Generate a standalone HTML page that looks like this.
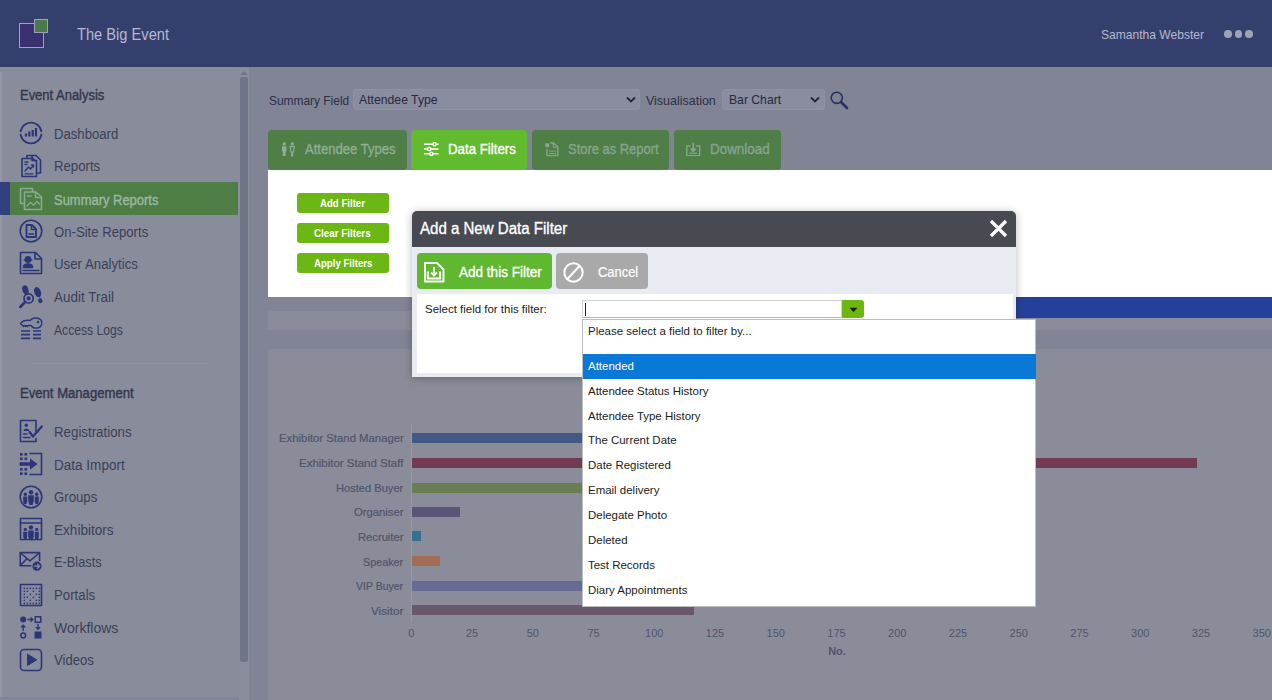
<!DOCTYPE html>
<html><head><meta charset="utf-8"><title>Summary Reports</title>
<style>
*{box-sizing:border-box;margin:0;padding:0}
html,body{width:1272px;height:700px;overflow:hidden}
body{position:relative;background:#818495;font-family:"Liberation Sans",sans-serif;color:#3E4258}
.a{position:absolute}
.t{position:absolute;white-space:nowrap;line-height:1;transform-origin:0 50%}
.ic{position:absolute;left:19px;width:24px;height:24px}
.ic svg{width:24px;height:24px;display:block;overflow:visible}
</style></head><body>
<div class="a" style="left:0px;top:0px;width:1272px;height:67px;background:#343F6E"></div>
<div class="a" style="left:0px;top:67px;width:239px;height:633px;background:#898D9B"></div>
<div class="a" style="left:0px;top:697px;width:239px;height:3px;background:#82859A"></div>
<div class="a" style="left:239px;top:67px;width:9.5px;height:633px;background:#8A8E9C"></div>
<div class="a" style="left:239.5px;top:77px;width:8.6px;height:585px;background:#707487;border-radius:2px"></div>
<svg class="a" style="left:240px;top:71px" width="8" height="4" viewBox="0 0 8 4"><path d="M0 4L4 0L8 4Z" fill="#70748A"/></svg>
<div class="a" style="left:19px;top:23px;width:25px;height:25px;background:#3A3270;border:1px solid #9DA2C0"></div>
<div class="a" style="left:34px;top:19px;width:14px;height:14px;background:#4B7A4A;border:1px solid #9DA2C0"></div>
<div class="t" style="left:77.0px;top:35.0px;font-size:16px;color:#B4B9D0;transform:translateY(-50%) scaleX(0.9154)">The Big Event</div>
<div class="t" style="left:1101.2px;top:34.2px;font-size:13px;color:#B4B9D0;transform:translateY(-50%) scaleX(0.9275)">Samantha Webster</div>
<div class="a" style="left:1224.2px;top:30.2px;width:7.6px;height:7.6px;background:#9EA2B7;border-radius:50%"></div>
<div class="a" style="left:1234.7px;top:30.2px;width:7.6px;height:7.6px;background:#9EA2B7;border-radius:50%"></div>
<div class="a" style="left:1245.2px;top:30.2px;width:7.6px;height:7.6px;background:#9EA2B7;border-radius:50%"></div>
<div class="a" style="left:0px;top:72px;width:1.5px;height:625px;background:#9396A7"></div>
<div class="a" style="left:0px;top:182px;width:10px;height:32.6px;background:#324080"></div>
<div class="a" style="left:10px;top:182px;width:228px;height:33px;background:#4E7D45"></div>
<div class="a" style="left:31px;top:363px;width:177px;height:1px;background:#8F93A1"></div>
<div class="t" style="left:19.7px;top:95.3px;font-size:14px;-webkit-text-stroke:0.4px #33364D;color:#33364D;transform:translateY(-50%) scaleX(0.9257)">Event Analysis</div>
<div class="t" style="left:19.8px;top:393.3px;font-size:14px;-webkit-text-stroke:0.4px #33364D;color:#33364D;transform:translateY(-50%) scaleX(0.9357)">Event Management</div>
<div class="ic" style="top:121.0px"><svg viewBox="0 0 24 24" fill="none" stroke="#2D3579" stroke-width="1.6" stroke-linecap="round" stroke-linejoin="round"><path d="M1.6 10.2A10.6 10.6 0 0 1 22.4 10.2M22.4 13.8A10.6 10.6 0 0 1 1.6 13.8" stroke-width="1.9"/><path d="M7 12.5V15.5M10.3 10.5V15.5M13.7 9V15.5M17 7V15.5" stroke-width="2.2" stroke-linecap="butt"/></svg></div><div class="t" style="left:54.0px;top:133.5px;font-size:14px;color:#3B3F57;transform:translateY(-50%) scaleX(0.9372)">Dashboard</div>
<div class="ic" style="top:153.8px"><svg viewBox="0 0 24 24" fill="none" stroke="#2D3579" stroke-width="1.6" stroke-linecap="round" stroke-linejoin="round"><path d="M8 4V1.5H17L21.5 6V19H17.5"/><path d="M13 1.8V6.5H17.5" /><path d="M3 4.5H14L17.5 8V22.5H3Z"/><path d="M6 17L9.5 13L11.5 15L14.5 11M12.5 11H14.5V13" stroke-width="1.3"/><path d="M6 8H9M6 10.5H8M6 19.8H14" stroke-width="1.3"/></svg></div><div class="t" style="left:54.0px;top:166.3px;font-size:14px;color:#3B3F57;transform:translateY(-50%) scaleX(0.9423)">Reports</div>
<div class="ic" style="top:186.5px"><svg viewBox="0 0 24 24" fill="none" stroke="#88AC8E" stroke-width="1.6" stroke-linecap="round" stroke-linejoin="round"><path d="M5 16.5H1.5V1.5H13.5V4.5"/><path d="M5.5 5H17L22.5 10V22.5H5.5Z"/><path d="M16.5 5.3V10.5H22"/><path d="M8 19L11.5 15.5L14.5 18L18 14.5L20.5 17" stroke-width="1.3"/><path d="M8.5 9H12" stroke-width="1.3"/></svg></div><div class="t" style="left:54.0px;top:199.6px;font-size:14px;-webkit-text-stroke:0.4px #98B8A0;color:#98B8A0;transform:translateY(-50%) scaleX(0.9254)">Summary Reports</div>
<div class="ic" style="top:219.2px"><svg viewBox="0 0 24 24" fill="none" stroke="#2D3579" stroke-width="1.6" stroke-linecap="round" stroke-linejoin="round"><circle cx="12" cy="12" r="10.8"/><path d="M7.5 6H13L17 10V18H7.5Z" stroke-width="1.9"/><path d="M12.5 6.5V10.5H16.5" stroke-width="1.6"/><path d="M10 15H14.5" stroke-width="1.6"/></svg></div><div class="t" style="left:54.0px;top:231.7px;font-size:14px;color:#3B3F57;transform:translateY(-50%) scaleX(0.9385)">On-Site Reports</div>
<div class="ic" style="top:251.8px"><svg viewBox="0 0 24 24" fill="none" stroke="#2D3579" stroke-width="1.6" stroke-linecap="round" stroke-linejoin="round"><g transform="translate(0 -1)"><path d="M1.5 1.5H16.5L22.5 7.5V22.5H1.5Z"/><path d="M16 2V8H22"/><circle cx="9" cy="8.5" r="2.6" fill="#2D3579"/><path d="M5.2 9H12.8" stroke-width="1.4"/><path d="M4.5 16.5C4.5 12 13.5 12 13.5 16.5Z" fill="#2D3579"/><path d="M4 19.5H20" stroke-width="1.5"/></g></svg></div><div class="t" style="left:54.0px;top:264.3px;font-size:14px;color:#3B3F57;transform:translateY(-50%) scaleX(0.9470)">User Analytics</div>
<div class="ic" style="top:284.5px"><svg viewBox="0 0 24 24" fill="none" stroke="#2D3579" stroke-width="1.6" stroke-linecap="round" stroke-linejoin="round"><ellipse cx="6.4" cy="4.9" rx="3" ry="4.6" transform="rotate(-18 6.4 4.9)" fill="#2D3579" stroke="none"/><ellipse cx="18.6" cy="7.2" rx="3.3" ry="5.3" transform="rotate(-20 18.6 7.2)" fill="#2D3579" stroke="none"/><ellipse cx="21.3" cy="15.6" rx="2.1" ry="2.6" transform="rotate(-20 21.3 15.6)" fill="#2D3579" stroke="none"/><circle cx="9.6" cy="13.4" r="4.6" stroke-width="1.7" fill="#898D9B"/><circle cx="9.6" cy="13.4" r="2.1" fill="#2D3579" stroke="none"/><path d="M6.2 16.9L1.3 22" stroke-width="2.6"/></svg></div><div class="t" style="left:54.0px;top:297.0px;font-size:14px;color:#3B3F57;transform:translateY(-50%) scaleX(0.9622)">Audit Trail</div>
<div class="ic" style="top:317.0px"><svg viewBox="0 0 24 24" fill="none" stroke="#2D3579" stroke-width="1.6" stroke-linecap="round" stroke-linejoin="round"><path d="M1.5 6.5C4 3.5 8 3 11 3.5C13 0.5 19 0 22 3C24 6 22.5 10.5 18.5 11C15 11.5 13 10 12 8.5H9.5L8.5 9.5L7.5 8.5L6.5 9.5L5.5 8.5L4.5 9.5L1.5 6.5Z" stroke-width="1.4"/><circle cx="19" cy="5" r="1.3" fill="#2D3579" stroke="none"/><path d="M2 14H11M14 14H22M2 17.7H11M14 17.7H22M2 21.4H11M14 21.4H22" stroke-width="1.7" stroke-linecap="butt"/></svg></div><div class="t" style="left:54.0px;top:329.5px;font-size:14px;color:#3B3F57;transform:translateY(-50%) scaleX(0.8668)">Access Logs</div>
<div class="ic" style="top:418.6px"><svg viewBox="0 0 24 24" fill="none" stroke="#2D3579" stroke-width="1.6" stroke-linecap="round" stroke-linejoin="round"><path d="M17 12.5V1.5H1.5V22.5H17V19.5"/><circle cx="7.3" cy="6.3" r="1.7" fill="#2D3579" stroke="none"/><path d="M4.5 12C4.5 8.5 10.2 8.5 10.2 12Z" fill="#2D3579" stroke="none"/><path d="M4.5 15H8M4.5 18.5H11" stroke-width="1.4"/><path d="M10.5 13L14 17.5L22.8 7.5" stroke-width="2.3"/></svg></div><div class="t" style="left:54.0px;top:432.0px;font-size:14px;color:#3B3F57;transform:translateY(-50%) scaleX(0.9498)">Registrations</div>
<div class="ic" style="top:451.5px"><svg viewBox="0 0 24 24" fill="none" stroke="#2D3579" stroke-width="1.6" stroke-linecap="round" stroke-linejoin="round"><path d="M11 1.5H22.5V22.5H11"/><g fill="#2D3579" stroke="none"><rect x="1" y="1" width="2.6" height="2.6"/><rect x="5.5" y="1" width="2.6" height="2.6"/><rect x="1" y="5.5" width="2.6" height="2.6"/><rect x="5.5" y="5.5" width="2.6" height="2.6"/><rect x="1" y="16" width="2.6" height="2.6"/><rect x="5.5" y="16" width="2.6" height="2.6"/><rect x="1" y="20.4" width="2.6" height="2.6"/><rect x="5.5" y="20.4" width="2.6" height="2.6"/><path d="M0.5 10.2H11V6.5L18.5 12L11 17.5V13.8H0.5Z"/></g></svg></div><div class="t" style="left:54.0px;top:464.7px;font-size:14px;color:#3B3F57;transform:translateY(-50%) scaleX(0.9666)">Data Import</div>
<div class="ic" style="top:484.8px"><svg viewBox="0 0 24 24" fill="none" stroke="#2D3579" stroke-width="1.6" stroke-linecap="round" stroke-linejoin="round"><circle cx="12" cy="12" r="10.8"/><g fill="#2D3579" stroke="none"><circle cx="12" cy="7.2" r="2.2"/><path d="M9.2 10.3H14.8V16L13.6 20H10.4L9.2 16Z"/><circle cx="6.3" cy="9.2" r="1.7"/><path d="M4.2 11.6H8.2V16.5L7.5 19H5L4.2 16.5Z"/><circle cx="17.7" cy="9.2" r="1.7"/><path d="M15.8 11.6H19.8V16.5L19 19H16.5L15.8 16.5Z"/></g></svg></div><div class="t" style="left:54.0px;top:497.3px;font-size:14px;color:#3B3F57;transform:translateY(-50%) scaleX(0.9429)">Groups</div>
<div class="ic" style="top:517.4px"><svg viewBox="0 0 24 24" fill="none" stroke="#2D3579" stroke-width="1.6" stroke-linecap="round" stroke-linejoin="round"><rect x="1.5" y="1.5" width="21" height="21"/><path d="M1.5 6H22.5"/><g transform="translate(0 3.2)"><g fill="#2D3579" stroke="none"><circle cx="12" cy="7.2" r="2.2"/><path d="M9.2 10.3H14.8V16L13.6 20H10.4L9.2 16Z"/><circle cx="6.3" cy="9.2" r="1.7"/><path d="M4.2 11.6H8.2V16.5L7.5 19H5L4.2 16.5Z"/><circle cx="17.7" cy="9.2" r="1.7"/><path d="M15.8 11.6H19.8V16.5L19 19H16.5L15.8 16.5Z"/></g></g></svg></div><div class="t" style="left:54.0px;top:529.9px;font-size:14px;color:#3B3F57;transform:translateY(-50%) scaleX(0.9696)">Exhibitors</div>
<div class="ic" style="top:549.9px"><svg viewBox="0 0 24 24" fill="none" stroke="#2D3579" stroke-width="1.6" stroke-linecap="round" stroke-linejoin="round"><path d="M12.5 15.8H1.2V2.6H20.6V10.5"/><path d="M1.5 3L10.9 10.8L20.3 3M1.5 15.4L7.8 8.8"/><circle cx="18" cy="16.2" r="5.6" fill="#898D9B" stroke="none"/><circle cx="18" cy="16.2" r="4.6" fill="#2D3579" stroke="none"/><path d="M15.3 16.2H20.3M18.5 14.2L20.5 16.2L18.5 18.2" stroke="#898D9B" stroke-width="1.3"/></svg></div><div class="t" style="left:54.0px;top:562.4px;font-size:14px;color:#3B3F57;transform:translateY(-50%) scaleX(0.9132)">E-Blasts</div>
<div class="ic" style="top:582.5px"><svg viewBox="0 0 24 24" fill="none" stroke="#2D3579" stroke-width="1.6" stroke-linecap="round" stroke-linejoin="round"><rect x="1.5" y="1.5" width="21" height="21"/><g fill="#2D3579" stroke="none"><rect x="4.6" y="4.6" width="1.5" height="1.5"/><rect x="4.6" y="7.6" width="1.5" height="1.5"/><rect x="4.6" y="10.6" width="1.5" height="1.5"/><rect x="4.6" y="13.6" width="1.5" height="1.5"/><rect x="4.6" y="16.6" width="1.5" height="1.5"/><rect x="4.6" y="19.6" width="1.5" height="1.5"/><rect x="7.6" y="4.6" width="1.5" height="1.5"/><rect x="7.6" y="7.6" width="1.5" height="1.5"/><rect x="7.6" y="13.6" width="1.5" height="1.5"/><rect x="7.6" y="19.6" width="1.5" height="1.5"/><rect x="10.6" y="4.6" width="1.5" height="1.5"/><rect x="10.6" y="10.6" width="1.5" height="1.5"/><rect x="10.6" y="16.6" width="1.5" height="1.5"/><rect x="10.6" y="19.6" width="1.5" height="1.5"/><rect x="13.6" y="4.6" width="1.5" height="1.5"/><rect x="13.6" y="7.6" width="1.5" height="1.5"/><rect x="13.6" y="13.6" width="1.5" height="1.5"/><rect x="13.6" y="19.6" width="1.5" height="1.5"/><rect x="16.6" y="4.6" width="1.5" height="1.5"/><rect x="16.6" y="10.6" width="1.5" height="1.5"/><rect x="16.6" y="16.6" width="1.5" height="1.5"/><rect x="16.6" y="19.6" width="1.5" height="1.5"/><rect x="19.6" y="4.6" width="1.5" height="1.5"/><rect x="19.6" y="7.6" width="1.5" height="1.5"/><rect x="19.6" y="10.6" width="1.5" height="1.5"/><rect x="19.6" y="13.6" width="1.5" height="1.5"/><rect x="19.6" y="16.6" width="1.5" height="1.5"/><rect x="19.6" y="19.6" width="1.5" height="1.5"/></g></svg></div><div class="t" style="left:54.0px;top:595.0px;font-size:14px;color:#3B3F57;transform:translateY(-50%) scaleX(0.9454)">Portals</div>
<div class="ic" style="top:615.0px"><svg viewBox="0 0 24 24" fill="none" stroke="#2D3579" stroke-width="1.6" stroke-linecap="round" stroke-linejoin="round"><g fill="#2D3579" stroke="none"><circle cx="4.2" cy="4.5" r="3"/><rect x="15.5" y="16.5" width="7" height="7"/></g><rect x="16.2" y="1.7" width="5.6" height="5.6" stroke-width="1.5"/><circle cx="4.2" cy="20.5" r="2.4" stroke-width="1.5"/><path d="M9 4.5H13.5M12 2.8L13.8 4.5L12 6.2M4.2 15.5V10.5M2.5 12L4.2 10.3L5.9 12M19 9.5V14M17.3 12.5L19 14.2L20.7 12.5" stroke-width="1.4"/></svg></div><div class="t" style="left:54.0px;top:627.5px;font-size:14px;color:#3B3F57;transform:translateY(-50%) scaleX(0.9998)">Workflows</div>
<div class="ic" style="top:647.5px"><svg viewBox="0 0 24 24" fill="none" stroke="#2D3579" stroke-width="1.6" stroke-linecap="round" stroke-linejoin="round"><rect x="1.5" y="1.5" width="21" height="21" rx="3.5"/><path d="M8.5 6.5V17.5L17.5 12Z" fill="#2D3579" stroke-width="1"/></svg></div><div class="t" style="left:54.0px;top:660.0px;font-size:14px;color:#3B3F57;transform:translateY(-50%) scaleX(0.9374)">Videos</div>
<div class="t" style="left:268.6px;top:101.0px;font-size:13.5px;color:#2C2F47;transform:translateY(-50%) scaleX(0.8834)">Summary Field</div>
<div class="a" style="left:353px;top:89px;width:287px;height:21px;background:#8A8D9F;border:1px solid #8F92A4;border-radius:3px"></div>
<div class="t" style="left:359.4px;top:100.4px;font-size:13.5px;color:#262940;transform:translateY(-50%) scaleX(0.9052)">Attendee Type</div>
<svg class="a" style="left:626px;top:96px" width="10" height="8" viewBox="0 0 10 8"><path d="M1 1.5L5 5.5L9 1.5" fill="none" stroke="#22253A" stroke-width="1.8"/></svg>
<div class="t" style="left:646.2px;top:101.0px;font-size:13.5px;color:#2C2F47;transform:translateY(-50%) scaleX(0.9237)">Visualisation</div>
<div class="a" style="left:722px;top:89px;width:103px;height:21px;background:#8A8D9F;border:1px solid #8F92A4;border-radius:3px"></div>
<div class="t" style="left:728.5px;top:100.4px;font-size:13.5px;color:#262940;transform:translateY(-50%) scaleX(0.9017)">Bar Chart</div>
<svg class="a" style="left:810px;top:96px" width="10" height="8" viewBox="0 0 10 8"><path d="M1 1.5L5 5.5L9 1.5" fill="none" stroke="#22253A" stroke-width="1.8"/></svg>
<svg class="a" style="left:829px;top:90px" width="20" height="20" viewBox="0 0 20 20"><circle cx="7.8" cy="7.8" r="5.6" fill="none" stroke="#283063" stroke-width="1.6"/><path d="M12 12L18 18" stroke="#283063" stroke-width="2.6" stroke-linecap="round"/></svg>
<div class="a" style="left:268.4px;top:129.7px;width:138.3px;height:40.3px;background:#4F7E47;border-radius:4px"></div>
<svg class="a" style="left:281px;top:142px" width="15" height="14.5" viewBox="0 0 15 14.5" fill="#8FAD98"><circle cx="3.2" cy="1.9" r="1.7"/><path d="M1 4.2H5.4V9.2H4.6V14H1.8V9.2H1Z"/><circle cx="11.2" cy="1.9" r="1.7"/><path d="M9 4.6H13.4L12.4 10H10Z M10.7 10.5H11.7V14H10.7Z" fill="none" stroke="#8FAD98" stroke-width="1.1"/></svg><div class="t" style="left:305.3px;top:149.2px;font-size:14.5px;-webkit-text-stroke:0.35px #8FAD98;color:#8FAD98;transform:translateY(-50%) scaleX(0.9014)">Attendee Types</div>
<div class="a" style="left:411px;top:129.7px;width:116.3px;height:40.3px;background:#62BA2E;border-radius:4px"></div>
<svg class="a" style="left:424px;top:142px" width="14.5" height="14" viewBox="0 0 14.5 14" fill="none" stroke="#fff" stroke-width="1.4"><path d="M0 2.2H8.8M12.4 2.2H14.5M0 7H3.4M7 7H14.5M0 11.8H5.6M9.2 11.8H14.5"/><circle cx="10.6" cy="2.2" r="1.6"/><circle cx="5.2" cy="7" r="1.6"/><circle cx="7.4" cy="11.8" r="1.6"/></svg><div class="t" style="left:448.2px;top:149.2px;font-size:14.5px;-webkit-text-stroke:0.35px #FFFFFF;color:#FFFFFF;transform:translateY(-50%) scaleX(0.9158)">Data Filters</div>
<div class="a" style="left:531.5px;top:129.7px;width:137px;height:40.3px;background:#4F7E47;border-radius:4px"></div>
<svg class="a" style="left:544px;top:142px" width="15" height="14.5" viewBox="0 0 15 14.5" fill="none" stroke="#86A590" stroke-width="1.4"><path d="M6 1H9.5L13.8 5V13.6H3V7"/><circle cx="3.2" cy="3.2" r="2.2" fill="#86A590" stroke="none"/><path d="M5 9H12M5 11.5H12" stroke-width="1.2"/><path d="M9.3 1.2V5.2H13.5" stroke-width="1.1"/></svg><div class="t" style="left:567.6px;top:149.2px;font-size:14.5px;-webkit-text-stroke:0.35px #86A590;color:#86A590;transform:translateY(-50%) scaleX(0.8921)">Store as Report</div>
<div class="a" style="left:674px;top:129.7px;width:106.5px;height:40.3px;background:#4F7E47;border-radius:4px"></div>
<svg class="a" style="left:686px;top:141.5px" width="14.5" height="14.5" viewBox="0 0 14.5 14.5" fill="none" stroke="#86A590" stroke-width="1.4"><path d="M4.4 4H0.8V13.6H13.7V4H10.1"/><path d="M7.25 0.5V9M4.8 6.6L7.25 9.2L9.7 6.6" stroke-width="1.7"/><path d="M3.4 11.2H11.1" stroke-width="1.2"/></svg><div class="t" style="left:710.3px;top:149.2px;font-size:14.5px;-webkit-text-stroke:0.35px #86A590;color:#86A590;transform:translateY(-50%) scaleX(0.9256)">Download</div>
<div class="a" style="left:268.4px;top:170px;width:1003.6px;height:126.6px;background:#fff"></div>
<div class="a" style="left:297.2px;top:193px;width:91.4px;height:20.4px;background:#6CB714;border-radius:3px"></div>
<div class="t" style="left:320.0px;top:203.3px;font-size:11px;font-weight:bold;color:#fff;transform:translateY(-50%) scaleX(0.8764)">Add Filter</div>
<div class="a" style="left:297.2px;top:223px;width:91.4px;height:20.4px;background:#6CB714;border-radius:3px"></div>
<div class="t" style="left:314.4px;top:233.3px;font-size:11px;font-weight:bold;color:#fff;transform:translateY(-50%) scaleX(0.8900)">Clear Filters</div>
<div class="a" style="left:297.2px;top:253px;width:91.4px;height:20.4px;background:#6CB714;border-radius:3px"></div>
<div class="t" style="left:313.6px;top:263.3px;font-size:11px;font-weight:bold;color:#fff;transform:translateY(-50%) scaleX(0.8765)">Apply Filters</div>
<div class="a" style="left:268.4px;top:310.7px;width:1003.6px;height:19.3px;background:#8A8D99;border-radius:2px 0 0 2px"></div>
<div class="a" style="left:1016px;top:296.7px;width:256px;height:21px;background:#24409A"></div>
<div class="a" style="left:268.4px;top:348.6px;width:1003.6px;height:351.4px;background:#8A8D99;border-radius:2px 0 0 0"></div>
<div class="a" style="left:411px;top:425px;width:1px;height:197px;background:#9598A6"></div>
<div class="a" style="left:412px;top:432.9px;width:364.5px;height:10px;background:#425A82"></div>
<div class="t" style="left:278.6px;top:438.4px;font-size:11px;-webkit-text-stroke:0.2px #50546B;color:#50546B;transform:translateY(-50%) scaleX(1.0316)">Exhibitor Stand Manager</div>
<div class="a" style="left:412px;top:457.7px;width:784.9px;height:10px;background:#723B51"></div>
<div class="t" style="left:299.1px;top:463.2px;font-size:11px;-webkit-text-stroke:0.2px #50546B;color:#50546B;transform:translateY(-50%) scaleX(1.0430)">Exhibitor Stand Staff</div>
<div class="a" style="left:412px;top:482.8px;width:486.0px;height:10px;background:#6A7E55"></div>
<div class="t" style="left:336.2px;top:488.3px;font-size:11px;-webkit-text-stroke:0.2px #50546B;color:#50546B;transform:translateY(-50%) scaleX(1.0097)">Hosted Buyer</div>
<div class="a" style="left:412px;top:506.5px;width:47.6px;height:10px;background:#5A5579"></div>
<div class="t" style="left:354.0px;top:512.0px;font-size:11px;-webkit-text-stroke:0.2px #50546B;color:#50546B;transform:translateY(-50%) scaleX(1.0249)">Organiser</div>
<div class="a" style="left:412px;top:531.4px;width:9.0px;height:10px;background:#34708E"></div>
<div class="t" style="left:358.1px;top:536.9px;font-size:11px;-webkit-text-stroke:0.2px #50546B;color:#50546B;transform:translateY(-50%) scaleX(1.0174)">Recruiter</div>
<div class="a" style="left:412px;top:556.4px;width:28.4px;height:10px;background:#A26C56"></div>
<div class="t" style="left:363.3px;top:561.9px;font-size:11px;-webkit-text-stroke:0.2px #50546B;color:#50546B;transform:translateY(-50%) scaleX(0.9809)">Speaker</div>
<div class="a" style="left:412px;top:580.5px;width:437.4px;height:10px;background:#646C96"></div>
<div class="t" style="left:356.4px;top:586.0px;font-size:11px;-webkit-text-stroke:0.2px #50546B;color:#50546B;transform:translateY(-50%) scaleX(0.9548)">VIP Buyer</div>
<div class="a" style="left:412px;top:605.2px;width:281.9px;height:10px;background:#68586A"></div>
<div class="t" style="left:371.2px;top:610.7px;font-size:11px;-webkit-text-stroke:0.2px #50546B;color:#50546B;transform:translateY(-50%) scaleX(1.0634)">Visitor</div>
<div class="t" style="left:411.3px;top:632.5px;font-size:11px;color:#50546B;transform:translate(-50%,-50%)">0</div>
<div class="t" style="left:472.1px;top:632.5px;font-size:11px;color:#50546B;transform:translate(-50%,-50%)">25</div>
<div class="t" style="left:532.8px;top:632.5px;font-size:11px;color:#50546B;transform:translate(-50%,-50%)">50</div>
<div class="t" style="left:593.5px;top:632.5px;font-size:11px;color:#50546B;transform:translate(-50%,-50%)">75</div>
<div class="t" style="left:654.3px;top:632.5px;font-size:11px;color:#50546B;transform:translate(-50%,-50%)">100</div>
<div class="t" style="left:715.0px;top:632.5px;font-size:11px;color:#50546B;transform:translate(-50%,-50%)">125</div>
<div class="t" style="left:775.8px;top:632.5px;font-size:11px;color:#50546B;transform:translate(-50%,-50%)">150</div>
<div class="t" style="left:836.5px;top:632.5px;font-size:11px;color:#50546B;transform:translate(-50%,-50%)">175</div>
<div class="t" style="left:897.3px;top:632.5px;font-size:11px;color:#50546B;transform:translate(-50%,-50%)">200</div>
<div class="t" style="left:958.0px;top:632.5px;font-size:11px;color:#50546B;transform:translate(-50%,-50%)">225</div>
<div class="t" style="left:1018.8px;top:632.5px;font-size:11px;color:#50546B;transform:translate(-50%,-50%)">250</div>
<div class="t" style="left:1079.5px;top:632.5px;font-size:11px;color:#50546B;transform:translate(-50%,-50%)">275</div>
<div class="t" style="left:1140.3px;top:632.5px;font-size:11px;color:#50546B;transform:translate(-50%,-50%)">300</div>
<div class="t" style="left:1201.0px;top:632.5px;font-size:11px;color:#50546B;transform:translate(-50%,-50%)">325</div>
<div class="t" style="left:1261.8px;top:632.5px;font-size:11px;color:#50546B;transform:translate(-50%,-50%)">350</div>
<div class="t" style="left:837px;top:650.5px;font-size:11px;font-weight:bold;color:#50546B;transform:translate(-50%,-50%)">No.</div>
<div class="a" style="left:412.2px;top:211px;width:604px;height:165.5px;background:#E8EBF2;border-radius:5px 5px 0 0;box-shadow:0 1px 9px rgba(0,0,0,.28)"></div>
<div class="a" style="left:412.2px;top:211px;width:604px;height:36px;background:#474A50;border-radius:5px 5px 0 0"></div>
<div class="t" style="left:420.4px;top:229.0px;font-size:16px;-webkit-text-stroke:0.35px #fff;color:#fff;transform:translateY(-50%) scaleX(0.9405)">Add a New Data Filter</div>
<svg class="a" style="left:989px;top:219px" width="19" height="19" viewBox="0 0 19 19"><path d="M2 2L17 17M17 2L2 17" stroke="#fff" stroke-width="3.2"/></svg>
<div class="a" style="left:417.3px;top:252.8px;width:134.3px;height:36.6px;background:#5FB82F;border-radius:4px"></div>
<svg class="a" style="left:424px;top:261.5px" width="21" height="21" viewBox="0 0 21 21" fill="none" stroke="#fff" stroke-width="1.9"><path d="M1 1H13L19.5 7.5V19.5H1Z"/><path d="M5 10.5H3.8V16.5H16.2V10.5H15" /><path d="M10 5V13M7 10.5L10 13.5L13 10.5" stroke-width="1.9"/></svg>
<div class="t" style="left:459.0px;top:271.5px;font-size:14.5px;-webkit-text-stroke:0.35px #fff;color:#fff;transform:translateY(-50%) scaleX(0.9339)">Add this Filter</div>
<div class="a" style="left:556.1px;top:252.8px;width:91.7px;height:36.6px;background:#A9A9A9;border-radius:4px"></div>
<svg class="a" style="left:563px;top:261.5px" width="21" height="21" viewBox="0 0 21 21" fill="none" stroke="#fff" stroke-width="2"><circle cx="10.5" cy="10.5" r="9.2"/><path d="M4.5 17L16.5 4"/></svg>
<div class="t" style="left:598.4px;top:271.5px;font-size:14.5px;-webkit-text-stroke:0.2px #fff;color:#fff;transform:translateY(-50%) scaleX(0.8906)">Cancel</div>
<div class="a" style="left:416.5px;top:293.5px;width:596.5px;height:79px;background:#fff"></div>
<div class="t" style="left:424.6px;top:309.5px;font-size:11.5px;color:#222;transform:translateY(-50%) scaleX(0.9970)">Select field for this filter:</div>
<div class="a" style="left:582px;top:300px;width:260px;height:18.4px;background:#fff;border:1px solid #D2D2D2;border-bottom-color:#B8B8BC"></div>
<div class="a" style="left:585px;top:303px;width:1px;height:13px;background:#222"></div>
<div class="a" style="left:841.5px;top:300px;width:22.4px;height:18.4px;background:#6CB80F;border-radius:0 3px 3px 0"></div>
<svg class="a" style="left:849px;top:307px" width="9" height="6" viewBox="0 0 9 6"><path d="M0.5 0.8H8.5L4.5 5Z" fill="#1a1a1a"/></svg>
<div class="a" style="left:581.5px;top:318.7px;width:454.3px;height:288.6px;background:#fff;border:1px solid #BDBDBD"></div>
<div class="a" style="left:582.5px;top:354.3px;width:453px;height:24.8px;background:#0A78D7"></div>
<div class="t" style="left:588.0px;top:331.5px;font-size:11.5px;color:#1c1c1c;transform:translateY(-50%) scaleX(0.9970)">Please select a field to filter by...</div>
<div class="t" style="left:588.0px;top:366.7px;font-size:11.5px;color:#fff;transform:translateY(-50%) scaleX(0.9970)">Attended</div>
<div class="t" style="left:588.0px;top:391.6px;font-size:11.5px;color:#1c1c1c;transform:translateY(-50%) scaleX(0.9970)">Attendee Status History</div>
<div class="t" style="left:588.0px;top:416.5px;font-size:11.5px;color:#1c1c1c;transform:translateY(-50%) scaleX(0.9970)">Attendee Type History</div>
<div class="t" style="left:588.0px;top:441.4px;font-size:11.5px;color:#1c1c1c;transform:translateY(-50%) scaleX(0.9970)">The Current Date</div>
<div class="t" style="left:588.0px;top:466.3px;font-size:11.5px;color:#1c1c1c;transform:translateY(-50%) scaleX(0.9970)">Date Registered</div>
<div class="t" style="left:588.0px;top:491.2px;font-size:11.5px;color:#1c1c1c;transform:translateY(-50%) scaleX(0.9970)">Email delivery</div>
<div class="t" style="left:588.0px;top:516.1px;font-size:11.5px;color:#1c1c1c;transform:translateY(-50%) scaleX(0.9970)">Delegate Photo</div>
<div class="t" style="left:588.0px;top:541.0px;font-size:11.5px;color:#1c1c1c;transform:translateY(-50%) scaleX(0.9970)">Deleted</div>
<div class="t" style="left:588.0px;top:565.9px;font-size:11.5px;color:#1c1c1c;transform:translateY(-50%) scaleX(0.9970)">Test Records</div>
<div class="t" style="left:588.0px;top:590.8px;font-size:11.5px;color:#1c1c1c;transform:translateY(-50%) scaleX(0.9970)">Diary Appointments</div>
</body></html>
